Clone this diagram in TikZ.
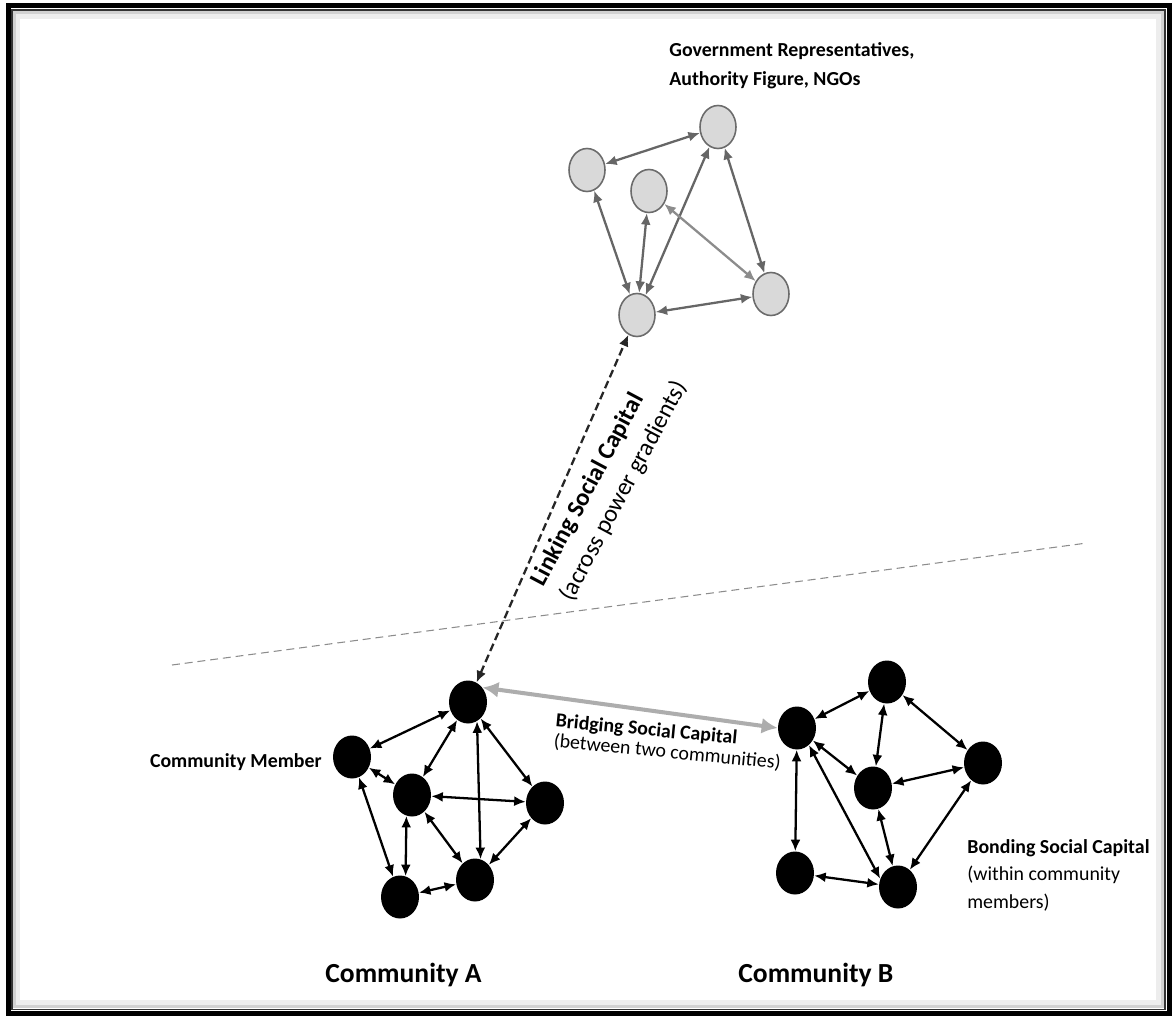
\documentclass[tikz,border=0pt]{standalone}
\usepackage{fontspec}
\setmainfont{Carlito}
\usetikzlibrary{arrows.meta,shapes.geometric}

\begin{document}
\begin{tikzpicture}[x=0.02cm, y=-0.02cm,
  gov/.style={ellipse, draw=black!58, line width=0.9pt, fill=black!15, inner sep=0pt, minimum width=0.72cm, minimum height=0.86cm},
  mem/.style={ellipse, fill=black, inner sep=0pt, minimum width=0.76cm, minimum height=0.86cm},
  arr/.style={{Latex[length=2.3mm,width=2mm]}-{Latex[length=2.3mm,width=2mm]}, line width=1.3pt},
  garr/.style={arr, draw=black!60},
  bridge/.style={{Latex[length=3.2mm,width=3.2mm]}-{Latex[length=3.2mm,width=3.2mm]}, line width=2.3pt, draw=black!32},
  linkarr/.style={arr, dash pattern=on 4.5pt off 2.3pt, draw=black!85},
  lab/.style={font=\fontsize{11.3}{13.5}\selectfont, align=left, inner sep=0pt},
  title/.style={font=\fontsize{15.7}{18}\selectfont\bfseries, inner sep=0pt, anchor=base west}]
  \useasboundingbox (0,0) rectangle (1172,1017);
  % frame
  \draw[black!7, line width=0.12cm] (17,16) rectangle (1159,1003);
  \draw[black!18, line width=0.06cm] (14.5,13) rectangle (1162,1006.5);
  \draw[black!80, line width=0.03cm] (12,10) rectangle (1165,1009.5);
  \draw[black, line width=0.09cm] (8.5,5.5) rectangle (1169.5,1013.5);
  % power gradient divide
  \draw[black!45, line width=0.6pt, dash pattern=on 4.5pt off 2.8pt] (172,665) -- (1087,543);
  % government, authority, NGOs
  \node[gov] (g1) at (587,170) {};
  \node[gov] (g2) at (718,127) {};
  \node[gov] (g3) at (649,191) {};
  \node[gov] (g4) at (771,294) {};
  \node[gov] (g5) at (637,315) {};
  \foreach \u/\v in {g1/g2,g1/g5,g5/g2,g5/g3,g2/g4,g5/g4}
    \draw[garr] (\u) -- (\v);
  \draw[garr, draw=black!45] (g3) -- (g4);
  % community A
  \node[mem] (a1) at (468,702) {};
  \node[mem] (a2) at (352,757) {};
  \node[mem] (a3) at (412,795) {};
  \node[mem] (a4) at (545,803) {};
  \node[mem] (a5) at (475,880) {};
  \node[mem] (a6) at (400,897) {};
  \foreach \u/\v in {a1/a2,a1/a3,a1/a4,a2/a3,a2/a6,a3/a4,a3/a5,a4/a5,a5/a6}
    \draw[arr] (\u) -- (\v);
  \draw[arr] (a1.-65) -- (a5.75);
  \draw[arr] (a3.255) -- (a6.75);
  % community B
  \node[mem] (b1) at (797,728) {};
  \node[mem] (b2) at (887,682) {};
  \node[mem] (b3) at (873,788) {};
  \node[mem] (b4) at (983,763) {};
  \node[mem] (b5) at (795,873) {};
  \node[mem] (b6) at (898,887) {};
  \foreach \u/\v in {b1/b2,b2/b3,b2/b4,b1/b3,b3/b4,b1/b5,b3/b6,b4/b6,b5/b6}
    \draw[arr] (\u) -- (\v);
  \draw[arr] (b1.-55) -- (b6.155);
  % bridging and linking
  \draw[bridge] (a1.45) -- (b1.west);
  \draw[linkarr] (a1) -- (g5);
  % labels
  \node[lab, font=\fontsize{11.3}{17}\selectfont\bfseries, anchor=base west] (govlab) at (669,86) {Government Representatives,\\Authority Figure, NGOs};
  \node[lab, font=\fontsize{11.3}{13.5}\selectfont\bfseries, anchor=base east] (memlab) at (322,767) {Community Member};
  \node[lab, font=\fontsize{11.3}{11.5}\selectfont, rotate=-5.5, anchor=base west] (bridgelab) at (553,747) {\textbf{Bridging Social Capital}\\(between two communities)};
  \node[lab, font=\fontsize{14}{18.5}\selectfont, rotate=62, anchor=base west] (linklab) at (572,603) {\textbf{Linking Social Capital}\\(across power gradients)};
  \node[lab, font=\fontsize{11.3}{15.5}\selectfont, anchor=base west] (bondlab) at (967,908) {\textbf{Bonding Social Capital}\\(within community\\members)};
  \node[title] (comA) at (325,982) {Community A};
  \node[title] (comB) at (738,982) {Community B};
\end{tikzpicture}
\end{document}
